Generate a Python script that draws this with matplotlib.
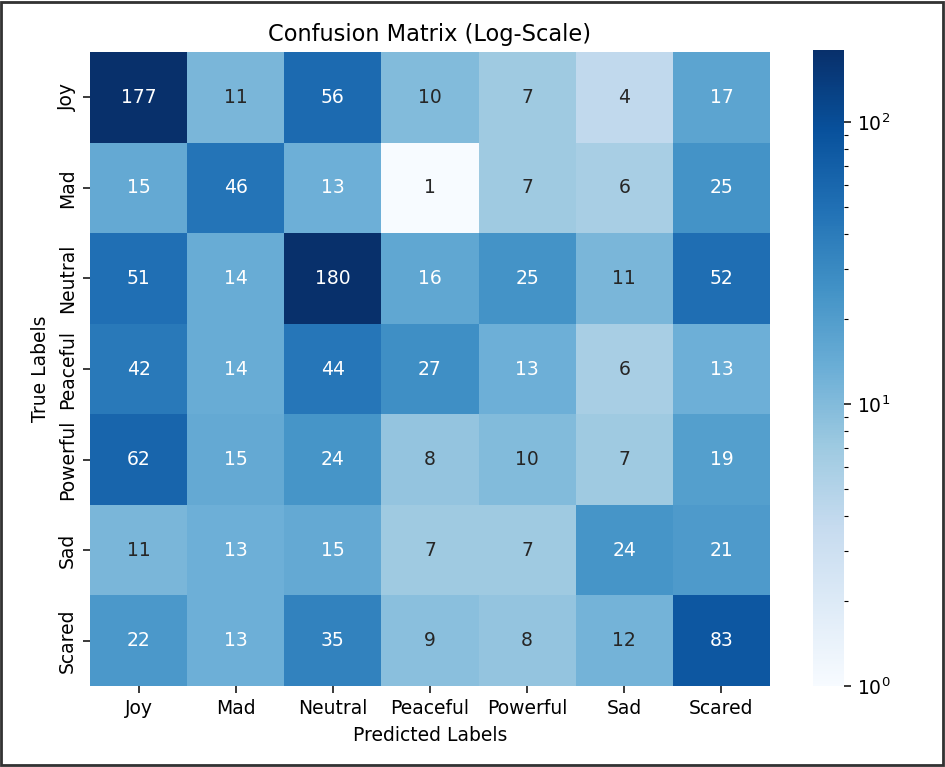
import numpy as np
import matplotlib
matplotlib.use('Agg')
import matplotlib.pyplot as plt
import seaborn as sns
from matplotlib.colors import LogNorm
from matplotlib.patches import Rectangle

labels = ['Joy', 'Mad', 'Neutral', 'Peaceful', 'Powerful', 'Sad', 'Scared']

# rows = true labels, columns = predicted labels
row_joy = [177, 11, 56, 10, 7, 4, 17]
row_mad = [15, 46, 13, 1, 7, 6, 25]
row_neutral = [51, 14, 180, 16, 25, 11, 52]
row_peaceful = [42, 14, 44, 27, 13, 6, 13]
row_powerful = [62, 15, 24, 8, 10, 7, 19]
row_sad = [11, 13, 15, 7, 7, 24, 21]
row_scared = [22, 13, 35, 9, 8, 12, 83]

cm = np.array([row_joy, row_mad, row_neutral, row_peaceful,
               row_powerful, row_sad, row_scared])

DPI = 135
fig = plt.figure(figsize=(945 / DPI, 767 / DPI), dpi=DPI)
ax = fig.add_axes([0.0952, 0.1056, 0.7196, 0.8266])
cax = fig.add_axes([0.860, 0.1056, 0.033, 0.8292])

sns.heatmap(cm, annot=True, fmt='d', cmap='Blues', norm=LogNorm(vmin=cm.min(), vmax=cm.max()),
            xticklabels=labels, yticklabels=labels, ax=ax, cbar_ax=cax)

ax.set_title('Confusion Matrix (Log-Scale)', fontsize=12)
ax.set_xlabel('Predicted Labels')
ax.set_ylabel('True Labels')

# frame around the whole figure
fig.patches.append(Rectangle((0.001, 0.002), 0.997, 0.996, transform=fig.transFigure,
                             fill=False, edgecolor='#333333', linewidth=1.5))

plt.savefig('out.png', dpi=DPI)
